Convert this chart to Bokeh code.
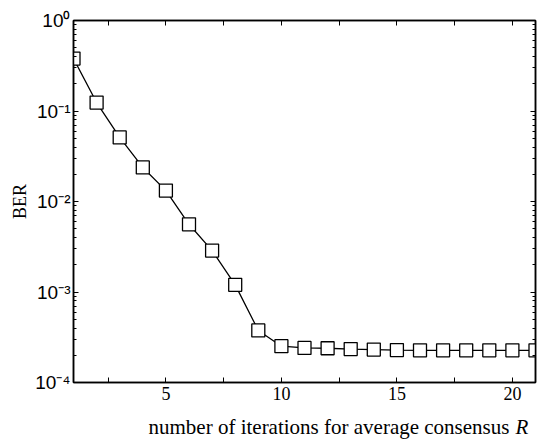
from bokeh.plotting import figure
from bokeh.layouts import column
from bokeh.models import (Range1d, FixedTicker, CustomJSTickFormatter, LinearAxis, LogAxis,
                          Label, ColumnDataSource)
from bokeh.embed import file_html
from bokeh.resources import INLINE

# data
iterations = list(range(1, 22))
ber = [0.38, 0.124, 0.051, 0.0238, 0.0132, 0.0056, 0.00287, 0.0012, 0.000376, 0.000252,
       0.000241, 0.000239, 0.000234, 0.000231, 0.000228, 0.000227, 0.000227, 0.000227,
       0.000227, 0.000227, 0.000227]
x_ticks = [2.5, 5, 7.5, 10, 12.5, 15, 17.5, 20]
y_major = [1e-4, 1e-3, 1e-2, 1e-1, 1]
x_label_text = "number of iterations for average consensus"
x_label_var = "R"
y_label_text = "BER"

y_minor = [m * d for d in [1e-4, 1e-3, 1e-2, 1e-1] for m in range(2, 10)]

SERIF = "Liberation Serif"
SANS = "Liberation Sans"

p = figure(frame_width=462, frame_height=362,
           x_range=Range1d(1, 21), y_range=Range1d(1e-4, 1), y_axis_type="log",
           output_backend="svg", toolbar_location=None,
           min_border_left=73, min_border_right=13, min_border_top=20, min_border_bottom=28)
p.grid.visible = False
p.outline_line_color = "black"
p.outline_line_width = 1.5
p.background_fill_color = "white"
p.border_fill_color = "white"

xfmt = CustomJSTickFormatter(code="return (Math.abs(tick % 5) < 1e-9) ? tick.toFixed(0) : '';")
yfmt = CustomJSTickFormatter(code="""
const sup = {'0':'\u2070','1':'\u00b9','2':'\u00b2','3':'\u00b3','4':'\u2074','5':'\u2075',
             '6':'\u2076','7':'\u2077','8':'\u2078','9':'\u2079','-':'\u207b'};
const e = Math.round(Math.log10(tick));
return '10' + String(e).split('').map(c => sup[c]).join('');
""")
blank = CustomJSTickFormatter(code="return '';")

def style(ax, show_labels):
    ax.axis_line_color = "black"
    ax.axis_line_width = 1.5
    ax.major_tick_in = 5
    ax.major_tick_out = 0
    ax.minor_tick_in = 3
    ax.minor_tick_out = 0
    ax.major_tick_line_color = "black"
    ax.minor_tick_line_color = "black"
    ax.major_tick_line_width = 1
    ax.minor_tick_line_width = 1
    ax.major_label_text_color = "black"
    if not show_labels:
        ax.major_label_text_font_size = "0px"
        ax.major_label_standoff = 0

xax = p.xaxis[0]
xax.ticker = FixedTicker(ticks=x_ticks, minor_ticks=[])
xax.formatter = xfmt
xax.major_label_text_font = SERIF
xax.major_label_text_font_size = "18px"
xax.major_label_standoff = 4
style(xax, True)

yax = p.yaxis[0]
yax.ticker = FixedTicker(ticks=y_major, minor_ticks=y_minor)
yax.formatter = yfmt
yax.major_label_text_font = SANS
yax.major_label_text_font_size = "19px"
yax.major_label_standoff = 3
yax.axis_label = y_label_text
yax.axis_label_text_font = SERIF
yax.axis_label_text_font_size = "18px"
yax.axis_label_text_font_style = "normal"
yax.axis_label_text_color = "black"
yax.axis_label_standoff = 2
style(yax, True)

top = LinearAxis(ticker=FixedTicker(ticks=x_ticks, minor_ticks=[]), formatter=blank)
style(top, False)
p.add_layout(top, "above")
right = LogAxis(ticker=FixedTicker(ticks=y_major, minor_ticks=y_minor), formatter=blank)
style(right, False)
p.add_layout(right, "right")

src = ColumnDataSource(data=dict(x=iterations, y=ber))
p.line("x", "y", source=src, line_color="black", line_width=1.3)
p.scatter("x", "y", source=src, marker="square", size=13, fill_color="white",
          line_color="black", line_width=1.3)

# strip below the chart holding the x-axis title (normal text + italic variable);
# its frame is aligned with the chart frame above (left edge at x=73)
cap = figure(width=548, height=29, x_range=Range1d(0, 548), y_range=Range1d(0, 29),
             output_backend="svg", toolbar_location=None,
             x_axis_location=None, y_axis_location=None,
             min_border_left=0, min_border_right=0, min_border_top=0, min_border_bottom=0)
cap.grid.visible = False
cap.outline_line_color = None
cap.background_fill_color = "white"
cap.border_fill_color = "white"
cap.add_layout(Label(x=75, y=13, x_units="screen", y_units="screen", text=x_label_text,
                     text_font=SERIF, text_font_size="21px",
                     text_baseline="middle", text_align="left", text_color="black"))
cap.add_layout(Label(x=442, y=13, x_units="screen", y_units="screen", text=x_label_var,
                     text_font=SERIF, text_font_size="21px", text_font_style="italic",
                     text_baseline="middle", text_align="left", text_color="black"))

layout = column(p, cap, spacing=0)
open("out.html", "w").write(file_html(layout, INLINE))
